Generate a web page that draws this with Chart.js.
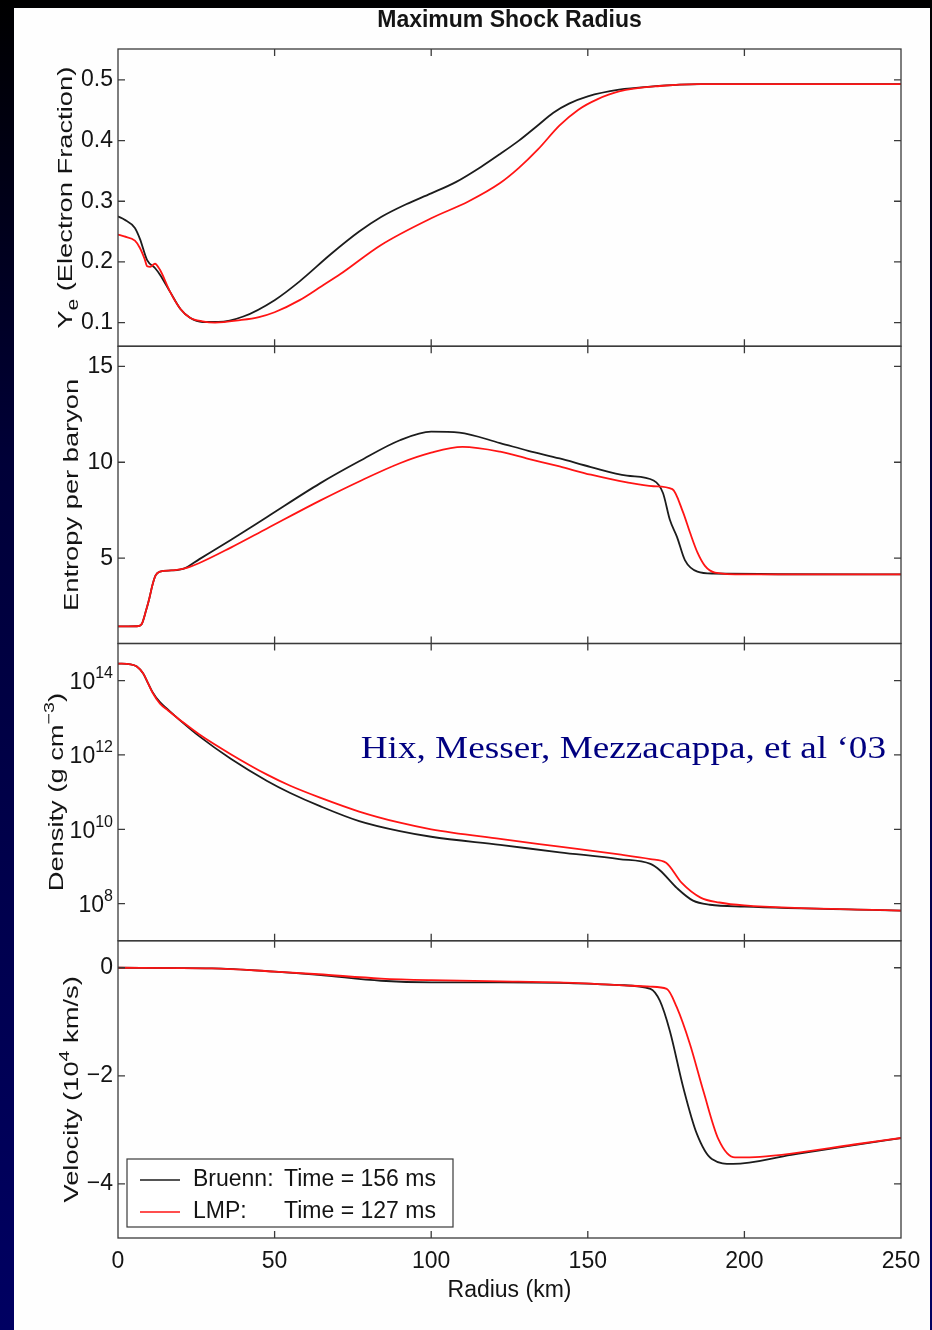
<!DOCTYPE html>
<html>
<head>
<meta charset="utf-8">
<script src="https://cdn.jsdelivr.net/npm/chart.js@4.4.0/dist/chart.umd.min.js"></script>
<style>
  html, body { margin: 0; padding: 0; }
  body {
    width: 932px; height: 1330px; position: relative; overflow: hidden;
    background: linear-gradient(to bottom, #000000 0%, #000038 35%, #000062 100%);
  }
  #sheet { position: absolute; left: 14px; top: 8px; width: 916px; height: 1322px; background: #fefefe; }
  #shock { position: absolute; left: 0; top: 0; }
</style>
</head>
<body>
<div id="sheet"></div>
<canvas id="shock" width="932" height="1330"></canvas>
<script>
// Electron fraction vs radius (km)
const bruennYeR = [0, 2, 5.4, 7, 9.3, 11.8, 13.4, 16.6, 20, 23, 27, 32, 40, 50, 58, 68, 77, 84, 92, 100, 108, 116, 122, 128, 134, 139, 144, 150, 160, 170, 186, 250];
const bruennYe  = [0.275, 0.27, 0.256, 0.238, 0.203, 0.19, 0.179, 0.151, 0.122, 0.108, 0.101, 0.101, 0.11, 0.137, 0.168, 0.213, 0.25, 0.274, 0.295, 0.313, 0.332, 0.357, 0.378, 0.4, 0.425, 0.446, 0.461, 0.473, 0.484, 0.489, 0.493, 0.493];
const lmpYeR = [0, 2, 5.4, 7, 8.5, 9.3, 10.3, 11.8, 13.4, 16.6, 20, 23, 27, 31, 39, 45, 50, 58, 65, 71, 84, 100, 112, 122, 128, 134, 141, 147, 153, 160, 173, 185, 250];
const lmpYe  = [0.245, 0.242, 0.235, 0.223, 0.205, 0.193, 0.192, 0.197, 0.187, 0.151, 0.122, 0.108, 0.102, 0.1, 0.104, 0.109, 0.117, 0.137, 0.16, 0.18, 0.228, 0.272, 0.3, 0.33, 0.355, 0.385, 0.425, 0.451, 0.468, 0.481, 0.49, 0.493, 0.493];

// Entropy per baryon
const bruennSR = [0, 6, 7.5, 9, 10, 11, 12, 13.4, 17, 21, 26, 36, 47.6, 64.5, 77, 90, 100, 109, 122, 131, 141, 151, 162.5, 171, 174, 176.2, 178.5, 181, 185, 190, 250];
const bruennS  = [1.44, 1.45, 1.55, 2.3, 2.9, 3.6, 4.1, 4.3, 4.36, 4.45, 4.95, 5.95, 7.15, 8.9, 10.05, 11.15, 11.6, 11.55, 11.0, 10.6, 10.2, 9.75, 9.3, 9.05, 8.4, 7.0, 6.1, 4.9, 4.3, 4.2, 4.15];
const lmpSR = [0, 6, 7.5, 9, 10, 11, 12, 13.4, 17, 21, 26, 36, 47.6, 64.5, 77, 90, 100, 110, 122, 131, 141, 151, 162.5, 171, 177, 180.4, 182.6, 185, 187.4, 190.6, 200, 250];
const lmpS  = [1.44, 1.45, 1.55, 2.3, 2.9, 3.6, 4.1, 4.3, 4.36, 4.45, 4.75, 5.55, 6.55, 8.0, 9.0, 9.95, 10.5, 10.8, 10.55, 10.18, 9.78, 9.35, 8.95, 8.75, 8.6, 7.4, 6.35, 5.3, 4.6, 4.25, 4.15, 4.15];

// Density (g cm^-3)
const bruennDR = [0, 4, 6, 8, 9.5, 11, 13.4, 16, 20, 26, 36, 47.6, 55, 64.5, 77, 90, 100, 122, 141, 160, 170, 173, 178.5, 183.6, 189, 200, 250];
const bruennD  = [2.88e14, 2.75e14, 2.4e14, 1.58e14, 8.9e13, 5.0e13, 2.63e13, 1.66e13, 8.3e12, 3.16e12, 7.9e11, 2.0e11, 9.5e10, 4.2e10, 1.66e10, 8.9e9, 6.3e9, 3.8e9, 2.4e9, 1.58e9, 1.17e9, 7.9e8, 2.6e8, 1.2e8, 9.3e7, 8.3e7, 6.5e7];
const lmpDR = [0, 4, 6, 8, 9.5, 11, 13.4, 16, 20, 26, 36, 47.6, 55, 64.5, 77, 90, 100, 122, 141, 160, 170, 175, 180, 186, 192, 200, 250];
const lmpD  = [2.88e14, 2.75e14, 2.4e14, 1.58e14, 8.9e13, 4.8e13, 2.4e13, 1.58e13, 8.5e12, 3.55e12, 1.05e12, 2.95e11, 1.48e11, 7.1e10, 3.0e10, 1.5e10, 1.0e10, 5.5e9, 3.4e9, 2.1e9, 1.58e9, 1.26e9, 3.6e8, 1.45e8, 1.07e8, 8.9e7, 6.5e7];

// Velocity (10^4 km/s)
const bruennVR = [0, 30, 50, 64, 84, 100, 122, 141, 160, 170, 173, 176.2, 180.5, 184.8, 189.6, 196.4, 215, 235, 250];
const bruennV  = [0, -0.01, -0.07, -0.13, -0.24, -0.27, -0.27, -0.28, -0.32, -0.39, -0.61, -1.17, -2.22, -3.07, -3.54, -3.63, -3.46, -3.28, -3.15];
const lmpVR = [0, 30, 50, 64, 84, 100, 122, 141, 160, 170, 175.2, 178.4, 182.6, 186.9, 191.7, 197, 205, 215, 235, 250];
const lmpV  = [0, -0.01, -0.07, -0.12, -0.2, -0.23, -0.25, -0.27, -0.32, -0.35, -0.39, -0.73, -1.41, -2.28, -3.17, -3.51, -3.5, -3.44, -3.27, -3.15];

// axis ticks
const radiusTicks = [0, 50, 100, 150, 200, 250];
const yeTicks = [0.1, 0.15, 0.2, 0.25, 0.3, 0.35, 0.4, 0.45, 0.5];
const yeTickLabels = ['0.1', '', '0.2', '', '0.3', '', '0.4', '', '0.5'];
const entropyTicks = [5, 10, 15];
const densityTicks = [1e8, 1e10, 1e12, 1e14];
const densityExponents = ['8', '10', '12', '14'];
const velocityTicks = [-4, -2, 0];

// legend text
const runNames = ['Bruenn:', 'LMP:'];
const runTimes = ['Time = 156 ms', 'Time = 127 ms'];

const SANS = '"Liberation Sans", Arial, Helvetica, sans-serif';
const INK = '#141414';
const AXIS = '#3a3a3a';
const BLACK_RUN = '#1c1c1c';
const RED_RUN = '#ff1414';

Chart.defaults.font.family = SANS;
Chart.defaults.color = INK;

const pts = (rs, vs) => rs.map((r, i) => ({x: r, y: vs[i]}));

function run(label, color, rs, vs, axis, order) {
  return {
    label: label,
    data: pts(rs, vs),
    yAxisID: axis,
    borderColor: color,
    borderWidth: 1.8,
    pointRadius: 0,
    cubicInterpolationMode: 'monotone',
    fill: false,
    order: order
  };
}

const panelIds = ['yY', 'yS', 'yD', 'yV'];

// y-axis titles, drawn by hand because of sub/superscripts
const yTitles = {
  yY: {x: 72, parts: [['Y', 0, 1], ['e', 0.3, 0.75], [' (Electron Fraction)', 0, 1]]},
  yS: {x: 78, parts: [['Entropy per baryon', 0, 1]]},
  yD: {x: 63, parts: [['Density (g cm', 0, 1], ['\u22123', -0.42, 0.72], [')', 0, 1]]},
  yV: {x: 78, parts: [['Velocity (10', 0, 1], ['4', -0.42, 0.72], [' km/s)', 0, 1]]}
};

function drawRotatedTitle(ctx, parts, bx, cy) {
  const size = 21, stretch = 1.3;
  let total = 0;
  const widths = parts.map(p => {
    ctx.font = (size * p[2]) + 'px ' + SANS;
    const w = ctx.measureText(p[0]).width;
    total += w;
    return w;
  });
  ctx.save();
  ctx.translate(bx, cy);
  ctx.rotate(-Math.PI / 2);
  ctx.scale(stretch, 1);
  ctx.textAlign = 'left';
  ctx.textBaseline = 'alphabetic';
  let x = -total / 2;
  parts.forEach((p, i) => {
    ctx.font = (size * p[2]) + 'px ' + SANS;
    ctx.fillText(p[0], x, p[1] * size);
    x += widths[i];
  });
  ctx.restore();
}

const frames = {
  id: 'frames',
  afterDatasetsDraw(chart) {
    const ctx = chart.ctx;
    const xs = chart.scales.x;
    const {left, right} = chart.chartArea;
    ctx.save();
    ctx.strokeStyle = AXIS;
    ctx.lineWidth = 1.3;
    panelIds.forEach(id => {
      const s = chart.scales[id];
      ctx.strokeRect(left, s.top, right - left, s.bottom - s.top);
      ctx.beginPath();
      radiusTicks.slice(1, -1).forEach(r => {
        const px = xs.getPixelForValue(r);
        ctx.moveTo(px, s.top); ctx.lineTo(px, s.top + 7);
        ctx.moveTo(px, s.bottom); ctx.lineTo(px, s.bottom - 7);
      });
      s.ticks.forEach(t => {
        const py = s.getPixelForValue(t.value);
        ctx.moveTo(left, py); ctx.lineTo(left + 7, py);
        ctx.moveTo(right, py); ctx.lineTo(right - 7, py);
      });
      ctx.stroke();
    });
    ctx.restore();
  },
  afterDraw(chart) {
    const ctx = chart.ctx;
    const {left, right} = chart.chartArea;
    ctx.save();
    ctx.fillStyle = INK;

    // axis titles
    panelIds.forEach(id => {
      const s = chart.scales[id];
      drawRotatedTitle(ctx, yTitles[id].parts, yTitles[id].x, (s.top + s.bottom) / 2);
    });

    // power-of-ten labels on the density axis
    const yD = chart.scales.yD;
    const labelRight = left - 5;
    densityTicks.forEach((v, i) => {
      const py = yD.getPixelForValue(v);
      ctx.textAlign = 'right';
      ctx.textBaseline = 'middle';
      ctx.font = '16px ' + SANS;
      const ew = ctx.measureText(densityExponents[i]).width;
      ctx.fillText(densityExponents[i], labelRight, py - 7);
      ctx.font = '23px ' + SANS;
      ctx.fillText('10', labelRight - ew, py + 2);
    });

    // citation
    ctx.save();
    ctx.fillStyle = '#000080';
    ctx.font = '31px "Liberation Serif", "Times New Roman", serif';
    ctx.textAlign = 'right';
    ctx.textBaseline = 'alphabetic';
    ctx.translate(right - 15, yD.top + 114);
    ctx.scale(1.2, 1);
    ctx.fillText('Hix, Messer, Mezzacappa, et al \u201803', 0, 0);
    ctx.restore();

    // legend in the velocity panel
    const yV = chart.scales.yV;
    const bx = left + 9, bh = 68, bw = 326;
    const by = yV.bottom - 11 - bh;
    ctx.fillStyle = '#ffffff';
    ctx.fillRect(bx, by, bw, bh);
    ctx.strokeStyle = AXIS;
    ctx.lineWidth = 1.2;
    ctx.strokeRect(bx, by, bw, bh);
    const sets = [chart.data.datasets[0], chart.data.datasets[1]];
    [21, 53].forEach((dy, i) => {
      const ry = by + dy;
      ctx.strokeStyle = sets[i].borderColor;
      ctx.lineWidth = 1.6;
      ctx.beginPath();
      ctx.moveTo(bx + 13, ry);
      ctx.lineTo(bx + 53, ry);
      ctx.stroke();
      ctx.fillStyle = INK;
      ctx.font = '23px ' + SANS;
      ctx.textAlign = 'left';
      ctx.textBaseline = 'middle';
      ctx.fillText(runNames[i], bx + 66, ry);
      ctx.fillText(runTimes[i], bx + 157, ry);
    });
    ctx.restore();
  }
};

function yAxis(type, min, max, ticks, labelFn) {
  return {
    type: type,
    position: 'left',
    stack: 'panels',
    stackWeight: 1,
    min: min,
    max: max,
    grid: {display: false, drawTicks: false},
    border: {display: false},
    afterBuildTicks: s => { s.ticks = ticks.map(v => ({value: v})); },
    afterFit: s => { s.width = 118; },
    ticks: {
      display: labelFn !== null,
      padding: 5,
      font: {size: 23},
      color: INK,
      callback: labelFn || (() => '')
    }
  };
}

new Chart(document.getElementById('shock'), {
  type: 'line',
  data: {
    datasets: [
      run('Bruenn', BLACK_RUN, bruennYeR, bruennYe, 'yY', 1),
      run('LMP', RED_RUN, lmpYeR, lmpYe, 'yY', 0),
      run('Bruenn', BLACK_RUN, bruennSR, bruennS, 'yS', 1),
      run('LMP', RED_RUN, lmpSR, lmpS, 'yS', 0),
      run('Bruenn', BLACK_RUN, bruennDR, bruennD, 'yD', 1),
      run('LMP', RED_RUN, lmpDR, lmpD, 'yD', 0),
      run('Bruenn', BLACK_RUN, bruennVR, bruennV, 'yV', 1),
      run('LMP', RED_RUN, lmpVR, lmpV, 'yV', 0)
    ]
  },
  options: {
    responsive: false,
    devicePixelRatio: 1,
    animation: false,
    layout: {padding: {left: 0, right: 31, top: 0, bottom: 0}},
    plugins: {
      legend: {display: false},
      tooltip: {enabled: false},
      title: {
        display: true,
        fullSize: false,
        text: 'Maximum Shock Radius',
        color: INK,
        font: {size: 23, weight: 'bold'},
        padding: {top: 7, bottom: 14.4}
      }
    },
    scales: {
      x: {
        type: 'linear',
        position: 'bottom',
        min: 0,
        max: 250,
        grid: {display: false, drawTicks: false},
        border: {display: false},
        afterBuildTicks: s => { s.ticks = radiusTicks.map(v => ({value: v})); },
        afterFit: s => { s.height = 92; },
        ticks: {padding: 10, font: {size: 23}, color: INK, autoSkip: false, maxRotation: 0},
        title: {display: true, text: 'Radius (km)', font: {size: 23}, color: INK, padding: {top: 0, bottom: 26}}
      },
      yV: yAxis('linear', -5, 0.5, velocityTicks, v => v === 0 ? '0' : '\u2212' + Math.abs(v)),
      yD: yAxis('logarithmic', 1e7, 1e15, densityTicks, null),
      yS: yAxis('linear', 0.55, 16.05, entropyTicks, v => String(v)),
      yY: yAxis('linear', 0.061, 0.551, yeTicks, (v, i) => yeTickLabels[i])
    }
  },
  plugins: [frames]
});
</script>
</body>
</html>
